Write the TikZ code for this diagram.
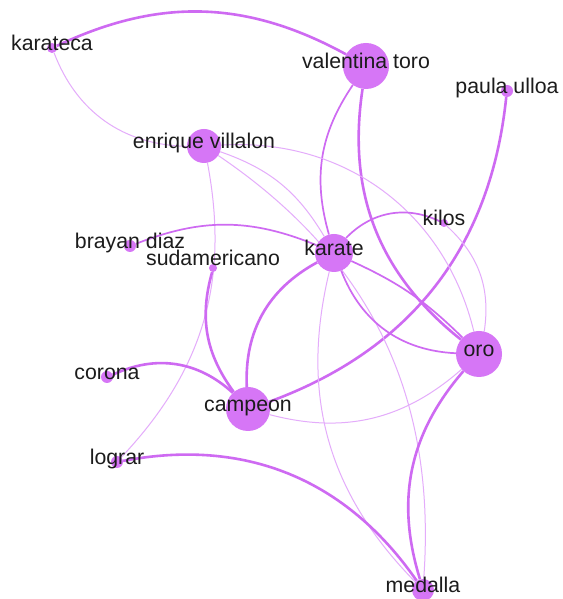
\documentclass[tikz,border=0pt]{standalone}
\usepackage{fontspec}
\setmainfont{Liberation Sans}
\definecolor{vio}{RGB}{214,118,246}
\definecolor{vioedge}{RGB}{206,106,242}
\definecolor{viothin}{RGB}{228,172,251}
\definecolor{lbltext}{RGB}{28,28,28}
\pgfdeclarelayer{bg}
\pgfsetlayers{bg,main}
\tikzset{
  vert/.style={circle,fill=vio,inner sep=0pt,minimum size=#1},
  lbl/.style={anchor=mid,text=lbltext,inner sep=0pt,font=\fontsize{21.3}{25}\selectfont},
  strong/.style={draw=vioedge,line width=2.6pt},
  medium/.style={draw=vioedge,line width=1.7pt},
  weak/.style={draw=viothin,line width=1pt}
}
\begin{document}
\begin{tikzpicture}[x=1pt,y=1pt]
  \useasboundingbox (0,0) rectangle (562,599);
  % vertices
  \node[vert=10pt] (kt) at (52,551) {};
  \node[vert=46pt] (vt) at (366,533) {};
  \node[vert=12pt] (pu) at (507,508) {};
  \node[vert=34pt] (ev) at (204,453) {};
  \node[vert=8pt] (ki) at (444,376) {};
  \node[vert=12pt] (bd) at (130,353) {};
  \node[vert=8pt] (su) at (213,331) {};
  \node[vert=38pt] (ka) at (334,346) {};
  \node[vert=46pt] (oro) at (479,245) {};
  \node[vert=12pt] (co) at (107,222) {};
  \node[vert=44pt] (ca) at (248,190) {};
  \node[vert=12pt] (lo) at (117,137) {};
  \node[vert=22pt] (me) at (423,9) {};
  % edges
  \begin{pgfonlayer}{bg}
    \fill[white] (0,0) rectangle (562,599);
    \draw[strong] (kt) to[bend left=27] (vt);
    \draw[weak] (kt) to[bend right=34] (ev);
    \draw[medium] (vt) to[bend right=25] (ka);
    \draw[strong] (vt) to[bend right=30] (oro);
    \draw[strong] (pu) to[bend left=32] (ca);
    \draw[weak] (ev) to[bend left=20] (ka);
    \draw[weak] (ev) to[bend left=30] (me);
    \draw[weak] (ev) to[bend left=40] (oro);
    \draw[weak] (ev) to[bend left=27] (lo);
    \draw[medium] (bd) to[bend left=22] (ka);
    \draw[medium] (ki) to[bend right=36] (ka);
    \draw[weak] (ki) to[bend left=28] (oro);
    \draw[medium] (ka) to[bend left=10] (oro);
    \draw[medium] (ka) to[bend right=33] (oro);
    \draw[strong] (ka) to[bend right=32] (ca);
    \draw[weak] (ka) to[bend right=29] (me);
    \draw[strong] (oro) to[bend right=29] (me);
    \draw[weak] (ca) to[bend right=28] (oro);
    \draw[strong] (co) to[bend left=34] (ca);
    \draw[strong] (su) to[bend right=26] (ca);
    \draw[strong] (lo) to[bend left=33] (me);
  \end{pgfonlayer}
  % labels
  \foreach \n/\t in {kt/karateca, vt/valentina toro, pu/paula ulloa,
      ev/enrique villalon, ki/kilos, bd/brayan diaz, ka/karate, oro/oro,
      co/corona, ca/campeon, lo/lograr, me/medalla}
    \node[lbl] (\n-l) at (\n) {\t};
  \node[lbl] (su-l) at ([yshift=5pt]su) {sudamericano};
\end{tikzpicture}
\end{document}
